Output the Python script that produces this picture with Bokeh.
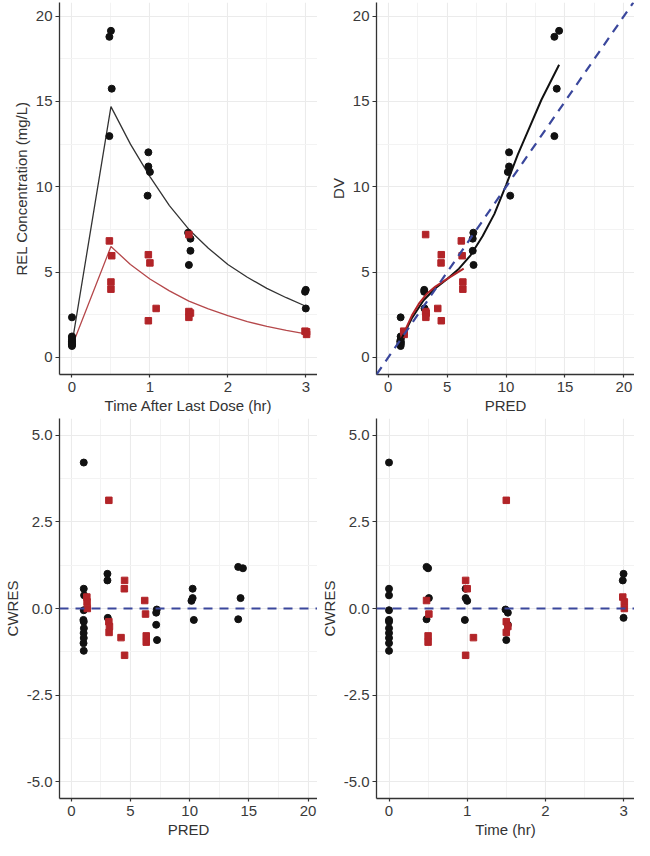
from bokeh.plotting import figure
from bokeh.layouts import gridplot
from bokeh.models import FixedTicker, Span, Slope, NumeralTickFormatter, Range1d
from bokeh.embed import file_html
from bokeh.resources import INLINE

# ---------------- data: group 1 (black circles) ----------------
g1_time = [0.0, 0.0, 0.0, 0.0, 0.0, 0.0, 0.0, 0.0, 0.0, 0.0, 0.0,
           0.50, 0.48, 0.51, 0.48,
           0.98, 0.98, 1.00, 0.97,
           1.49, 1.52, 1.52, 1.50,
           3.00, 2.99, 3.00]
g1_dv = [2.35, 1.23, 1.17, 1.03, 0.95, 0.93, 0.87, 0.83, 0.78, 0.74, 0.67,
         19.14, 18.79, 15.75, 12.97,
         12.02, 11.19, 10.87, 9.48,
         7.31, 6.96, 6.25, 5.42,
         3.96, 3.85, 2.87]
g1_pred = [1.05, 1.05, 1.08, 1.05, 1.02, 1.05, 1.06, 1.04, 1.05, 1.03, 1.05,
           14.5, 14.1, 14.3, 14.1,
           10.25, 10.25, 10.15, 10.35,
           7.22, 7.17, 7.17, 7.24,
           3.05, 3.05, 3.08]
g1_cwres = [4.21, 0.57, 0.38, -0.05, -0.33, -0.38, -0.57, -0.71, -0.85, -1.00, -1.22,
            1.16, 1.20, 0.30, -0.31,
            0.57, 0.30, 0.22, -0.33,
            -0.03, -0.12, -0.47, -0.91,
            1.00, 0.81, -0.27]

# ---------------- data: group 2 (red squares) ----------------
g2_time = [0.48, 0.51, 0.50, 0.50,
           0.98, 1.00, 1.08, 0.98,
           1.50, 1.50, 1.52, 1.50,
           2.99, 3.01, 3.01]
g2_dv = [6.83, 5.96, 4.42, 4.00,
         6.02, 5.54, 2.87, 2.15,
         7.20, 2.69, 2.60, 2.35,
         1.54, 1.50, 1.35]
g2_pred = [6.20, 6.27, 6.33, 6.33,
           4.50, 4.48, 4.20, 4.50,
           3.17, 3.17, 3.22, 3.19,
           1.31, 1.33, 1.35]
g2_cwres = [0.23, -0.16, -0.79, -0.97,
            0.81, 0.57, -0.84, -1.35,
            3.12, -0.38, -0.52, -0.69,
            0.33, 0.19, 0.00]

# ---------------- model curves (concentration vs time) ----------------
c1_time = [0.0, 0.5, 0.75, 1.0, 1.25, 1.5, 1.75, 2.0, 2.25, 2.5, 2.75, 3.0]
c1_conc = [0.8, 14.7, 12.5, 10.6, 8.9, 7.5, 6.4, 5.45, 4.7, 4.05, 3.5, 3.0]
c2_time = [0.0, 0.5, 0.75, 1.0, 1.25, 1.5, 1.75, 2.0, 2.25, 2.5, 2.75, 3.0]
c2_conc = [0.65, 6.5, 5.45, 4.6, 3.9, 3.3, 2.85, 2.45, 2.1, 1.82, 1.58, 1.38]

# ---------------- smooths (DV vs PRED) ----------------
s1_pred = [1.05, 2.0, 3.0, 4.0, 5.0, 6.0, 7.0, 8.0, 9.0, 10.0, 11.0, 12.0, 13.0, 14.5]
s1_dv = [1.0, 2.3, 3.35, 4.05, 4.6, 5.2, 6.0, 7.1, 8.4, 10.1, 11.9, 13.5, 15.1, 17.15]
s2_pred = [1.3, 2.0, 2.6, 3.3, 4.0, 5.0, 6.4]
s2_dv = [1.4, 2.45, 3.15, 3.75, 4.15, 4.6, 5.2]

BLACK = "#111111"
RED = "#B22428"
BLUE = "#3A479C"
FONT = "Liberation Sans"


def make_fig(w, h, border_bottom, xr, yr, xticks, xminor, yticks, yminor,
             xlabel, ylabel, yfmt=None):
    p = figure(width=w, height=h, x_range=Range1d(*xr), y_range=Range1d(*yr),
               output_backend="svg", toolbar_location=None,
               min_border_left=50, min_border_right=0, min_border_top=2,
               min_border_bottom=border_bottom)
    p.outline_line_color = None
    p.background_fill_color = "white"
    xt = FixedTicker(ticks=xticks, minor_ticks=xminor)
    yt = FixedTicker(ticks=yticks, minor_ticks=yminor)
    p.xaxis.ticker = xt
    p.yaxis.ticker = yt
    p.xgrid.ticker = xt
    p.ygrid.ticker = yt
    for g in (p.xgrid, p.ygrid):
        g.grid_line_color = "#EBEBEB"
        g.grid_line_width = 1.1
        g.minor_grid_line_color = "#F3F3F3"
        g.minor_grid_line_width = 1.0
    for ax in (p.xaxis, p.yaxis):
        ax.axis_line_color = "#333333"
        ax.axis_line_width = 1.3
        ax.major_tick_line_color = "#333333"
        ax.major_tick_line_width = 1.2
        ax.major_tick_out = 4
        ax.major_tick_in = 0
        ax.minor_tick_line_color = None
        ax.major_label_text_font = FONT
        ax.major_label_text_font_size = "15px"
        ax.major_label_text_color = "#3A3A3A"
        ax.major_label_standoff = 3
        ax.axis_label_text_font = FONT
        ax.axis_label_text_font_size = "15px"
        ax.axis_label_text_font_style = "normal"
        ax.axis_label_text_color = "#333333"
        ax.axis_label_standoff = 3
    p.xaxis.major_tick_out = 3
    p.xaxis.major_label_standoff = 3
    p.xaxis.axis_label_standoff = 2
    p.xaxis.axis_label = xlabel
    p.yaxis.axis_label = ylabel
    if yfmt:
        p.yaxis.formatter = NumeralTickFormatter(format=yfmt)
    return p


TICK20 = [0, 5, 10, 15, 20]
MINOR20 = [2.5, 7.5, 12.5, 17.5]
TICKT = [0, 1, 2, 3]
MINORT = [0.5, 1.5, 2.5]
TICKR = [-5, -2.5, 0, 2.5, 5]
MINORR = [-3.75, -1.25, 1.25, 3.75]

# ---- panel 1: DV vs time ----
p1 = make_fig(317, 416, 40, (-0.16, 3.15), (-1.0, 20.8), TICKT, MINORT, TICK20, MINOR20,
              "Time After Last Dose (hr)", "REL Concentration (mg/L)")
p1.line(c1_time, c1_conc, line_color="#333333", line_width=1.3)
p1.line(c2_time, c2_conc, line_color="#B5484B", line_width=1.3)
p1.scatter(g1_time, g1_dv, marker="circle", size=7, fill_color=BLACK, line_color=BLACK)
p1.scatter(g2_time, g2_dv, marker="square", size=6.5, fill_color=RED, line_color=RED)

# ---- panel 2: DV vs PRED ----
p2 = make_fig(317, 416, 40, (-1.0, 20.9), (-1.0, 20.8), TICK20, MINOR20, TICK20, MINOR20,
              "PRED", "DV")
p2.scatter(g1_pred, g1_dv, marker="circle", size=7, fill_color=BLACK, line_color=BLACK)
p2.scatter(g2_pred, g2_dv, marker="square", size=6.5, fill_color=RED, line_color=RED)
p2.line(s1_pred, s1_dv, line_color=BLACK, line_width=2)
p2.line(s2_pred, s2_dv, line_color=RED, line_width=2)
p2.add_layout(Slope(gradient=1, y_intercept=0, line_color=BLUE, line_width=2.2, line_dash="9 7"))

# ---- panel 3: CWRES vs PRED ----
p3 = make_fig(317, 424, 40, (-1.0, 20.8), (-5.48, 5.48), TICK20, MINOR20, TICKR, MINORR,
              "PRED", "CWRES", "0.0")
p3.scatter(g1_pred, g1_cwres, marker="circle", size=7, fill_color=BLACK, line_color=BLACK)
p3.scatter(g2_pred, g2_cwres, marker="square", size=6.5, fill_color=RED, line_color=RED)
p3.add_layout(Span(location=0, dimension="width", line_color=BLUE, line_width=2.2, line_dash="9 7"))

# ---- panel 4: CWRES vs time ----
p4 = make_fig(317, 424, 40, (-0.16, 3.14), (-5.48, 5.48), TICKT, MINORT, TICKR, MINORR,
              "Time (hr)", "CWRES", "0.0")
p4.scatter(g1_time, g1_cwres, marker="circle", size=7, fill_color=BLACK, line_color=BLACK)
p4.scatter(g2_time, g2_cwres, marker="square", size=6.5, fill_color=RED, line_color=RED)
p4.add_layout(Span(location=0, dimension="width", line_color=BLUE, line_width=2.2, line_dash="9 7"))

grid = gridplot([[p1, p2], [p3, p4]], toolbar_location=None)

open("out.html", "w").write(file_html(grid, INLINE))
